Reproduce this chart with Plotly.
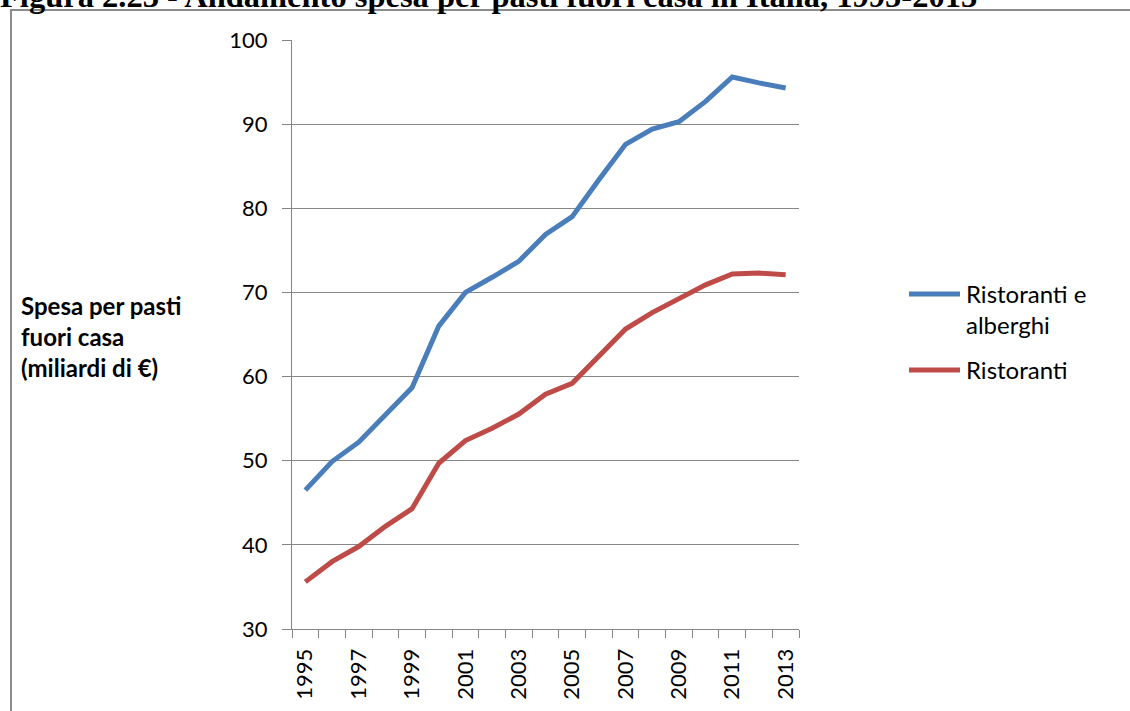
import plotly.graph_objects as go

years = list(range(1995, 2014))
ristoranti_alberghi = [46.5, 49.9, 52.2, 55.5, 58.7, 66.0, 70.0, 71.8, 73.7, 76.9,
                       79.0, 83.4, 87.6, 89.4, 90.3, 92.7, 95.6, 94.9, 94.3]
ristoranti = [35.6, 38.0, 39.8, 42.2, 44.3, 49.7, 52.4, 53.85, 55.55, 57.9,
              59.2, 62.4, 65.65, 67.6, 69.2, 70.9, 72.2, 72.3, 72.1]
series_names = ["Ristoranti e<br>alberghi", "Ristoranti"]
series_colors = ["#4A7EBB", "#BE4B48"]
title_text = "Figura 2.23 - Andamento spesa per pasti fuori casa in Italia, 1995-2013"
y_title = "Spesa per pasti<br>fuori casa<br>(miliardi di €)"

W_FIG, H_FIG = 1130, 711
L, T, R, B = 292, 40, 1130 - 799, 711 - 629
PW, PH = W_FIG - L - R, H_FIG - T - B


def px2x(p):
    return (p - L) / PW


def py2y(p):
    return 1 - (p - T) / PH


FONT = "Lato"
GRID = "#868686"

fig = go.Figure()
for name, vals, col in zip(series_names, [ristoranti_alberghi, ristoranti], series_colors):
    fig.add_trace(go.Scatter(x=years, y=vals, mode="lines", name=name,
                             line=dict(color=col, width=5), showlegend=False))

shapes = []
annotations = []
# frame border
shapes.append(dict(type="rect", xref="paper", yref="paper",
                   x0=px2x(11), x1=px2x(1140), y0=py2y(720), y1=py2y(10),
                   line=dict(color="#8C8C8C", width=2), fillcolor="rgba(0,0,0,0)"))
# manual legend
leg_y = [294, 370]
for name, col, ly in zip(series_names, series_colors, leg_y):
    shapes.append(dict(type="line", xref="paper", yref="paper",
                       x0=px2x(909), x1=px2x(960), y0=py2y(ly), y1=py2y(ly),
                       line=dict(color=col, width=5)))
    annotations.append(dict(text=name, xref="paper", yref="paper", x=px2x(964), y=py2y(ly - 17),
                            xanchor="left", yanchor="top", showarrow=False, align="left",
                            font=dict(family=FONT, size=24, color="black")))
# y title
annotations.append(dict(text="<b>" + y_title + "</b>", xref="paper", yref="paper",
                        x=px2x(19), y=py2y(336), xanchor="left", yanchor="middle",
                        showarrow=False, align="left",
                        font=dict(family=FONT, size=24, color="black")))
# chart caption (cut off at top, as in the source)
annotations.append(dict(text="<b>" + title_text + "</b>", xref="paper", yref="paper",
                        x=px2x(-2), y=py2y(16), xanchor="left", yanchor="bottom",
                        showarrow=False,
                        font=dict(family="Liberation Serif", size=32.5, color="black")))

fig.update_layout(
    width=W_FIG, height=H_FIG,
    margin=dict(l=L, r=R, t=T, b=B),
    paper_bgcolor="white", plot_bgcolor="white",
    shapes=shapes, annotations=annotations,
    font=dict(family=FONT, size=22, color="black"),
)
fig.update_xaxes(range=[1994.5, 2013.5], tick0=1995, dtick=2, tickangle=-90,
                 ticks="outside", ticklen=10, tickcolor="rgba(0,0,0,0)",
                 showgrid=False, showline=True, linecolor=GRID, linewidth=1,
                 zeroline=False, tickfont=dict(family=FONT, size=22),
                 minor=dict(tick0=1994.5, dtick=1, ticks="outside", ticklen=8,
                            tickcolor=GRID, tickwidth=1, showgrid=False))
fig.update_yaxes(range=[30, 100], dtick=10, ticks="outside", ticklen=9, tickcolor=GRID,
                 showgrid=True, gridcolor=GRID, gridwidth=1, showline=True,
                 linecolor=GRID, linewidth=1, zeroline=False, ticklabelstandoff=10,
                 tickfont=dict(family=FONT, size=22))

fig.write_html("out.html")
